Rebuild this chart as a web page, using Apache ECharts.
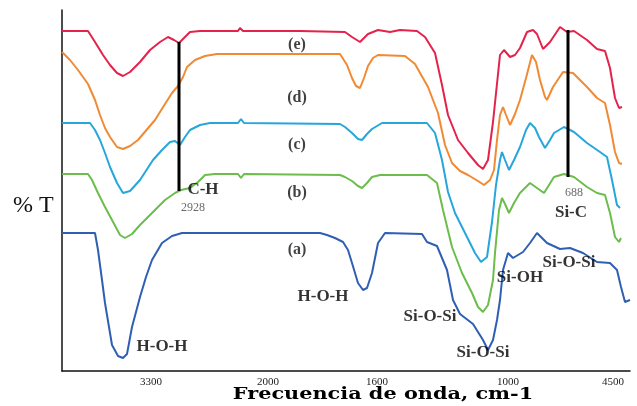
<!DOCTYPE html>
<html>
<head>
<meta charset="utf-8">
<script src="https://cdn.jsdelivr.net/npm/echarts@6/dist/echarts.min.js"></script>
<style>
  html, body { margin: 0; padding: 0; background: #fff; }
  #chart { width: 637px; height: 406px; }
</style>
</head>
<body>
<div id="chart"></div>
<script>
// FTIR spectra (a)–(e), stacked with vertical offsets.
// x: position along the wavenumber scale (plot units), y: offset %T (plot units)
const spectrumE = [[0,340],[26,340],[33,329],[41,316],[48,306],[55,298],[61,295],[68,299],[78,309],[88,321],[98,329],[106,334],[112,331],[117,328],[122,333],[128,339],[138,340],[176,340],[178,343],[181,340],[238,340],[283,339],[290,334],[298,329],[306,337],[316,341],[328,339],[338,341],[355,340],[363,334],[373,318],[380,286],[386,256],[396,231],[406,218],[416,206],[421,202],[426,211],[431,249],[438,316],[442,321],[448,314],[453,316],[458,323],[465,339],[471,341],[475,337],[481,322],[488,329],[498,344],[505,339],[512,340],[525,331],[535,322],[543,320],[548,303],[553,273],[557,263],[560,264]];

const spectrumD = [[0,319],[8,311],[16,301],[26,287],[33,271],[38,256],[43,243],[48,234],[55,224],[61,222],[68,225],[76,231],[93,251],[103,267],[110,278],[116,285],[121,294],[125,304],[133,311],[143,315],[155,317],[278,317],[285,306],[290,293],[294,285],[298,283],[302,293],[306,305],[311,313],[316,316],[343,315],[353,307],[366,284],[376,258],[383,226],[390,208],[398,200],[406,196],[416,190],[422,186],[428,191],[432,201],[435,231],[438,256],[441,264],[444,256],[448,246],[453,257],[458,271],[464,293],[470,316],[474,309],[478,291],[483,274],[485,271],[491,284],[501,299],[511,298],[525,284],[535,273],[543,268],[548,246],[553,219],[557,208],[560,207]];

const spectrumC = [[0,248],[28,248],[33,241],[38,231],[43,218],[48,204],[55,188],[61,178],[68,180],[78,191],[91,211],[100,221],[108,229],[113,230],[118,226],[123,234],[128,241],[138,246],[148,248],[176,248],[179,252],[182,248],[278,247],[283,244],[290,238],[296,232],[300,231],[305,237],[310,242],[320,248],[365,248],[373,238],[380,211],[386,179],[393,158],[403,138],[413,118],[419,109],[425,114],[430,149],[434,186],[438,211],[440,219],[443,211],[447,201],[452,211],[458,224],[464,241],[468,248],[473,243],[477,234],[483,223],[488,231],[492,238],[502,244],[512,239],[525,228],[538,219],[545,214],[550,191],[555,166],[558,163]];

const spectrumB = [[0,197],[26,197],[30,191],[36,178],[43,164],[50,151],[58,136],[63,133],[70,137],[78,146],[93,161],[103,171],[113,178],[119,181],[128,183],[136,189],[143,196],[153,197],[176,197],[179,193],[182,197],[278,196],[283,194],[290,190],[296,185],[300,183],[305,188],[310,194],[318,196],[365,196],[375,188],[381,161],[390,124],[400,98],[410,78],[416,64],[421,59],[426,66],[431,91],[433,118],[437,161],[440,173],[443,167],[447,158],[452,168],[458,178],[468,188],[475,183],[482,178],[487,186],[492,194],[502,197],[512,194],[525,184],[535,178],[543,176],[548,158],[553,134],[557,129],[559,133]];

const spectrumA = [[0,138],[33,138],[36,121],[40,91],[43,68],[47,44],[50,26],[56,15],[61,13],[65,17],[70,44],[78,74],[84,94],[90,111],[100,128],[110,135],[120,138],[258,138],[265,136],[273,133],[281,129],[286,121],[290,108],[296,88],[301,81],[305,83],[310,98],[316,128],[323,138],[360,137],[365,129],[375,125],[380,113],[385,101],[391,71],[398,57],[411,47],[421,31],[426,21],[431,31],[435,51],[438,71],[441,101],[446,118],[451,113],[461,119],[468,128],[475,138],[480,133],[485,128],[498,122],[508,123],[521,118],[535,109],[548,108],[555,101],[559,84],[563,69],[568,71]];

// x-axis tick positions and their printed wavenumbers
const tickPositions = [89, 206, 315, 446, 551];
const tickLabels = ['3300', '2000', '1600', '1000', '4500'];

// band marker lines (C-H at 2928, Si-C)
const markerCH = [[117, 329], [117, 180]];
const markerSiC = [[506, 341], [506, 194]];

// band annotations: [text, x, y]
const curveTags = [['(e)', 235, 326], ['(d)', 235, 273], ['(c)', 235, 226], ['(b)', 235, 178], ['(a)', 235, 121]];
const bandTags = [['C-H', 141, 181], ['H-O-H', 100, 24], ['H-O-H', 261, 74], ['Si-O-Si', 368, 54], ['Si-O-Si', 421, 18], ['Si-OH', 458, 93], ['Si-O-Si', 507, 108], ['Si-C', 509, 158]];
const smallTags = [['2928', 131, 163], ['688', 512, 178]];

const chart = echarts.init(document.getElementById('chart'), null, { renderer: 'canvas' });

const serif = 'Liberation Serif';

function spectrum(name, data, color) {
  return {
    name, type: 'line', data, showSymbol: false, symbol: 'none',
    lineStyle: { color, width: 2 }, z: 2, silent: true
  };
}

function marker(data) {
  return {
    type: 'line', data, showSymbol: false, symbol: 'none',
    lineStyle: { color: '#000', width: 3 }, z: 3, silent: true
  };
}

function tags(list, labelStyle) {
  return {
    type: 'scatter', symbolSize: 1, itemStyle: { color: 'rgba(0,0,0,0)' }, z: 4, silent: true,
    data: list.map(t => ({ name: t[0], value: [t[1], t[2]] })),
    label: Object.assign({ show: true, position: 'inside', formatter: '{b}' }, labelStyle)
  };
}

const option = {
  animation: false,
  backgroundColor: '#fff',
  grid: { left: 62, right: 7, top: 10, bottom: 35 },
  xAxis: {
    type: 'value', min: 0, max: 568,
    axisLine: { show: true, onZero: false, lineStyle: { color: '#111', width: 1.5 } },
    axisTick: { show: false },
    splitLine: { show: false },
    axisLabel: {
      customValues: tickPositions,
      formatter: v => tickLabels[tickPositions.indexOf(v)] || '',
      fontFamily: serif, fontSize: 11, color: '#222', margin: 6
    }
  },
  yAxis: {
    type: 'value', min: 0, max: 361,
    axisLine: { show: true, lineStyle: { color: '#111', width: 1.5 } },
    axisTick: { show: false },
    axisLabel: { show: false },
    splitLine: { show: false }
  },
  series: [
    spectrum('(a)', spectrumA, '#2f5fb3'),
    spectrum('(b)', spectrumB, '#6cbd4c'),
    spectrum('(c)', spectrumC, '#27a6dc'),
    spectrum('(d)', spectrumD, '#f08a34'),
    spectrum('(e)', spectrumE, '#e3234b'),
    marker(markerCH),
    marker(markerSiC),
    tags(curveTags, { fontFamily: serif, fontWeight: 'bold', fontSize: 16, color: '#111' }),
    tags(bandTags, { fontFamily: serif, fontWeight: 'bold', fontSize: 17, color: '#000' }),
    tags(smallTags, { fontFamily: serif, fontSize: 12, color: '#444' })
  ],
  graphic: [
    {
      type: 'text', left: 13, top: 194,
      style: { text: '% T', font: '24px "Liberation Serif"', fill: '#111' }
    },
    {
      type: 'text', x: 383, y: 395, scaleX: 1.3,
      style: {
        text: 'Frecuencia de onda, cm-1', font: 'bold 16px "DejaVu Serif"',
        fill: '#000', textAlign: 'center', textVerticalAlign: 'middle'
      }
    }
  ]
};

chart.setOption(option);
</script>
</body>
</html>
